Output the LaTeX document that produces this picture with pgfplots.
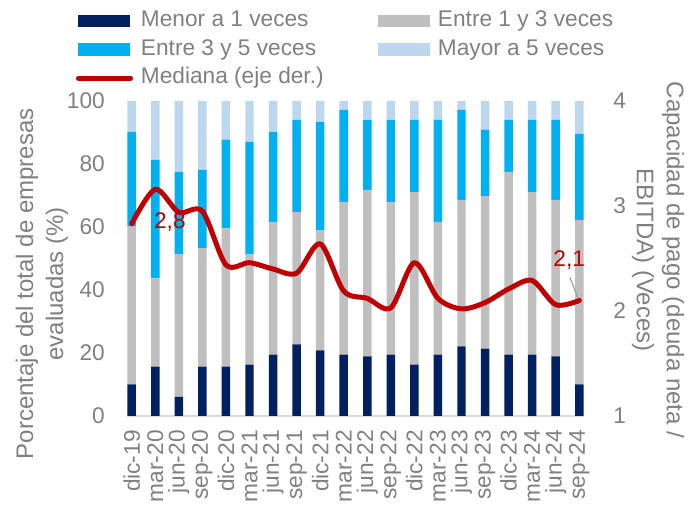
\documentclass[border=0pt]{standalone}
\usepackage{fontspec}
\setmainfont{Liberation Sans}
\usepackage{pgfplots}
\pgfplotsset{compat=1.18}
\definecolor{txt}{RGB}{128,128,128}
\definecolor{c1}{RGB}{0,32,96}
\definecolor{c2}{RGB}{191,191,191}
\definecolor{c3}{RGB}{0,176,240}
\definecolor{c4}{RGB}{189,215,238}
\definecolor{cl}{RGB}{192,0,0}
\pgfplotsset{
  barlegend/.style={legend image code/.code={\draw[##1, draw=none] (0pt,-4.75pt) rectangle (39pt,4.75pt);}},
  linelegend/.style={legend image code/.code={\draw[##1] (0pt,0pt) -- (39pt,0pt);}},
}
\begin{document}
\begin{tikzpicture}
\useasboundingbox (-95.25pt,-67.5pt) rectangle (425.25pt,312pt);
\begin{axis}[
  at={(0pt,0pt)}, anchor=south west,
  scale only axis, width=342.75pt, height=236.25pt,
  xmin=-0.2, xmax=19.2, ymin=0, ymax=100,
  ybar stacked, bar width=0.36,
  xtick={0,...,19},
  xticklabels={dic-19,mar-20,jun-20,sep-20,dic-20,mar-21,jun-21,sep-21,dic-21,mar-22,jun-22,sep-22,dic-22,mar-23,jun-23,sep-23,dic-23,mar-24,jun-24,sep-24},
  ytick={0,20,...,100},
  major tick length=0pt,
  axis x line*=bottom, axis y line*=left,
  x axis line style={draw=black!15, line width=1.1pt, -},
  y axis line style={draw=none},
  /pgf/number format/assume math mode=true,
  tick label style={font=\fontsize{17}{20}\selectfont, text=txt, inner sep=0pt},
  xticklabel style={yshift=-10.5pt, rotate=90, anchor=east},
  yticklabel style={anchor=east, xshift=-16.5pt},
  ylabel={Porcentaje del total de empresas\\evaluadas (\%)},
  ylabel style={align=center, font=\fontsize{18}{22.5}\selectfont, text=txt,
    at={(axis description cs:-0.186,0.42)}, anchor=center},
  legend columns=2,
  legend cell align=left,
  legend style={at={(axis description cs:-0.1116,1.289)}, anchor=north west,
    draw=none, fill=none, inner sep=0pt, outer sep=0pt, row sep=4.9pt,
    font=\fontsize{17}{20}\selectfont, text=txt,
    nodes={inner sep=0pt, text height=12.5pt, text depth=4pt},
    /tikz/every odd column/.append style={column sep=6pt}},
  barlegend,
]
\addplot[fill=c1, draw=none] coordinates {(0,10) (1,15.7) (2,6.1) (3,15.7) (4,15.7) (5,16.3) (6,19.5) (7,22.7) (8,20.8) (9,19.5) (10,18.9) (11,19.5) (12,16.3) (13,19.5) (14,22.1) (15,21.4) (16,19.5) (17,19.5) (18,18.9) (19,10.0)};
\addlegendentry{\makebox[177.75pt][l]{Menor a 1 veces}}
\addplot[fill=c2, draw=none] coordinates {(0,50.3) (1,28.0) (2,45.3) (3,37.6) (4,43.9) (5,35.1) (6,42.1) (7,42.0) (8,38.2) (9,48.4) (10,52.9) (11,48.4) (12,54.8) (13,42.1) (14,46.5) (15,48.4) (16,58.0) (17,51.6) (18,49.7) (19,52.2)};
\addlegendentry{Entre 1 y 3 veces}
\addplot[fill=c3, draw=none] coordinates {(0,29.9) (1,37.6) (2,26.1) (3,24.8) (4,28.1) (5,35.6) (6,28.6) (7,29.3) (8,34.4) (9,29.3) (10,22.2) (11,26.1) (12,22.9) (13,32.4) (14,28.6) (15,21.1) (16,16.5) (17,22.9) (18,25.4) (19,27.4)};
\addlegendentry{\makebox[177.75pt][l]{Entre 3 y 5 veces}}
\addplot[fill=c4, draw=none] coordinates {(0,9.8) (1,18.7) (2,22.5) (3,21.9) (4,12.3) (5,13.0) (6,9.8) (7,6.0) (8,6.6) (9,2.8) (10,6.0) (11,6.0) (12,6.0) (13,6.0) (14,2.8) (15,9.1) (16,6.0) (17,6.0) (18,6.0) (19,10.4)};
\addlegendentry{Mayor a 5 veces}
\addlegendimage{cl, line width=3.75pt, line cap=round, linelegend}
\addlegendentry{\makebox[177.75pt][l]{Mediana (eje der.)}}
\end{axis}
\begin{axis}[
  at={(0pt,0pt)}, anchor=south west,
  scale only axis, width=342.75pt, height=236.25pt,
  xmin=-0.2, xmax=19.2, ymin=1, ymax=4,
  ytick={1,2,3,4},
  major tick length=0pt,
  axis y line*=right, axis x line=none,
  y axis line style={draw=none},
  clip=false,
  /pgf/number format/assume math mode=true,
  tick label style={font=\fontsize{17}{20}\selectfont, text=txt, inner sep=0pt},
  yticklabel style={anchor=west, xshift=21.75pt},
  ylabel={Capacidad de pago (deuda neta /\\EBITDA) (Veces)},
  ylabel style={align=center, font=\fontsize{18}{22.5}\selectfont, text=txt, rotate=180,
    at={(axis description cs:1.162,0.495)}, anchor=center},
]
\draw[black!40, line width=0.8pt] (axis cs:18.6,2.32) -- (axis cs:18.93,2.13);
\addplot[cl, line width=3.75pt, smooth, line cap=round, line join=round] coordinates {(0,2.83) (1,3.16) (2,2.94) (3,2.95) (4,2.44) (5,2.46) (6,2.40) (7,2.36) (8,2.64) (9,2.19) (10,2.12) (11,2.03) (12,2.46) (13,2.12) (14,2.02) (15,2.08) (16,2.21) (17,2.29) (18,2.06) (19,2.10)};
\node[text=cl, font=\fontsize{17}{20}\selectfont, inner sep=0pt] at (axis cs:1.62,2.85) {2,8};
\node[text=cl, font=\fontsize{17}{20}\selectfont, inner sep=0pt] at (axis cs:18.57,2.49) {2,1};
\end{axis}
\end{tikzpicture}
\end{document}
